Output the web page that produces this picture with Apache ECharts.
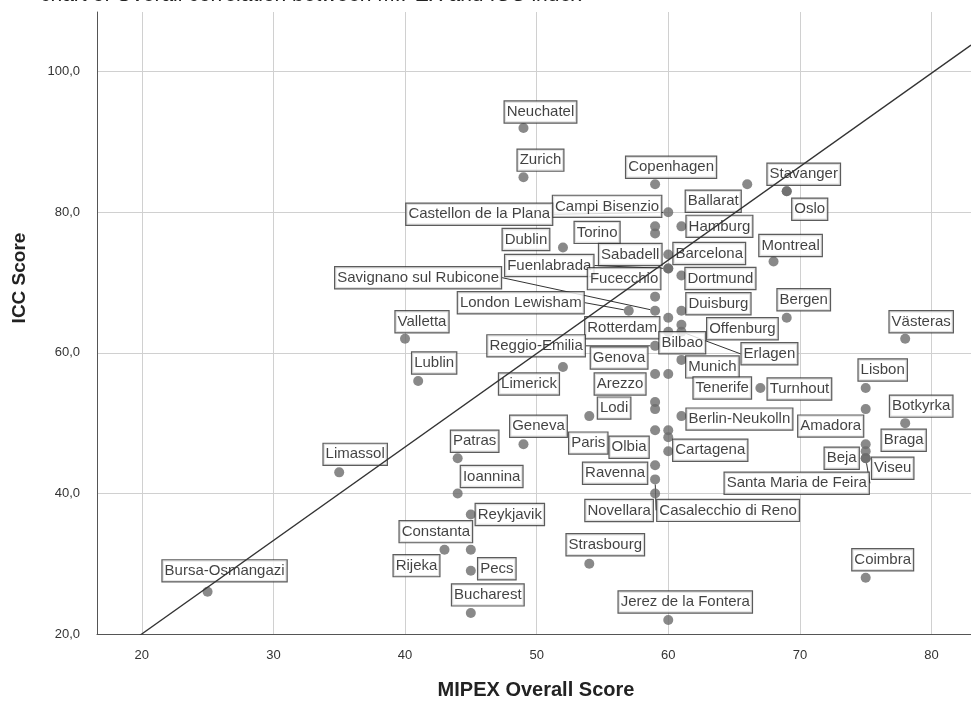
<!DOCTYPE html>
<html>
<head>
<meta charset="utf-8">
<script src="https://cdn.jsdelivr.net/npm/echarts@6/dist/echarts.min.js"></script>
<style>
  html, body { margin: 0; padding: 0; background: #fff; }
  #chart { width: 971px; height: 701px; }
</style>
</head>
<body>
<div id="chart"></div>
<script>
// City names with their MIPEX overall score and ICC index score
const cities = [
  'Neuchatel', 'Zurich', 'Copenhagen', 'Stavanger', 'Oslo', 'Ballarat', 'Hamburg',
  'Campi Bisenzio', 'Castellon de la Plana', 'Torino', 'Dublin', 'Sabadell', 'Barcelona',
  'Fuenlabrada', 'Fucecchio', 'Dortmund', 'Savignano sul Rubicone', 'London Lewisham',
  'Duisburg', 'Bergen', 'Montreal', 'Valletta', 'Rotterdam', 'Offenburg', 'Västeras',
  'Bilbao', 'Erlagen', 'Reggio-Emilia', 'Genova', 'Lublin', 'Munich', 'Limerick', 'Lisbon',
  'Arezzo', 'Tenerife', 'Turnhout', 'Botkyrka', 'Lodi', 'Berlin-Neukolln', 'Amadora',
  'Geneva', 'Patras', 'Paris', 'Olbia', 'Cartagena', 'Braga', 'Limassol', 'Beja', 'Viseu',
  'Ioannina', 'Ravenna', 'Santa Maria de Feira', 'Novellara', 'Casalecchio di Reno',
  'Reykjavik', 'Constanta', 'Strasbourg', 'Coimbra', 'Bursa-Osmangazi', 'Rijeka', 'Pecs',
  'Bucharest', 'Jerez de la Fontera', '', ''
];
const mipexScore = [
  49, 49, 59, 69, 69, 66, 61,
  59, 60, 59, 52, 60, 60,
  60, 59, 61, 59, 57,
  61, 69, 68, 40, 60, 61, 78,
  60, 61, 59, 59, 41, 61, 52, 75,
  59, 60, 67, 78, 59, 61, 75,
  49, 44, 54, 59, 60, 75, 35, 75, 75,
  44, 59, 75, 59, 59,
  45, 45, 54, 75, 25, 43, 45,
  45, 60, 60, 60
];
const iccScore = [
  92, 85, 84, 83, 83, 84, 78,
  78, 80, 77, 75, 74, 72,
  72, 68, 71, 66, 66,
  66, 65, 73, 62, 65, 64, 62,
  63, 63, 61, 57, 56, 59, 58, 55,
  53, 57, 55, 50, 52, 51, 52,
  47, 45, 51, 49, 46, 47, 43, 46, 45,
  40, 44, 45, 40, 42,
  37, 32, 30, 28, 26, 32, 29,
  23, 22, 49, 48
];
// Axis tick values
const xTicks = [20, 30, 40, 50, 60, 70, 80];
const yTicks = [20, 40, 60, 80, 100];
// Linear fit line: ICC = intercept + slope * MIPEX
const fitIntercept = -6.6;
const fitSlope = 1.33;

// Label placement (centre offset from the point, in px)
const labelOffsets = {
  'Neuchatel': [17, -16], 'Zurich': [17, -17], 'Copenhagen': [16, -17], 'Stavanger': [17, -17],
  'Oslo': [23, 18], 'Ballarat': [-34, 17], 'Hamburg': [38, 0], 'Campi Bisenzio': [-48, -20],
  'Castellon de la Plana': [-189, 2], 'Torino': [-58, -1], 'Dublin': [-37, -8], 'Sabadell': [-38, 0],
  'Barcelona': [41, -15], 'Fuenlabrada': [-119, -3], 'Fucecchio': [-31, -18], 'Dortmund': [39, 3],
  'Savignano sul Rubicone': [-237, -33], 'London Lewisham': [-108, -8], 'Duisburg': [37, -7],
  'Bergen': [17, -18], 'Montreal': [17, -16], 'Valletta': [17, -17], 'Rotterdam': [-46, 10],
  'Offenburg': [61, 4], 'Västeras': [16, -17], 'Bilbao': [14, 11], 'Erlagen': [88, 22],
  'Reggio-Emilia': [-119, 0], 'Genova': [-36, -16], 'Lublin': [16, -18], 'Munich': [31, 7],
  'Limerick': [-34, 17], 'Lisbon': [17, -18], 'Arezzo': [-35, -18], 'Tenerife': [54, 14],
  'Turnhout': [39, 1], 'Botkyrka': [16, -17], 'Lodi': [-41, -1], 'Berlin-Neukolln': [58, 3],
  'Amadora': [-35, 17], 'Geneva': [15, -18], 'Patras': [17, -17], 'Paris': [-1, 27],
  'Olbia': [-26, 17], 'Cartagena': [42, -1], 'Braga': [38, -4], 'Limassol': [16, -18],
  'Beja': [-24, 7], 'Viseu': [27, 10], 'Ioannina': [34, -17], 'Ravenna': [-40, 8],
  'Santa Maria de Feira': [-69, 25], 'Novellara': [-36, 17], 'Casalecchio di Reno': [73, 31],
  'Reykjavik': [39, 0], 'Constanta': [-35, -18], 'Strasbourg': [16, -19], 'Coimbra': [17, -18],
  'Bursa-Osmangazi': [17, -21], 'Rijeka': [-28, 16], 'Pecs': [26, -2], 'Bucharest': [17, -18],
  'Jerez de la Fontera': [17, -18]
};
// Labels that are connected to their point with a guide line
const guidedLabels = [
  'Castellon de la Plana', 'Fuenlabrada', 'Savignano sul Rubicone', 'London Lewisham',
  'Erlagen', 'Reggio-Emilia', 'Santa Maria de Feira', 'Casalecchio di Reno'
];

const X_MIN = 16.6, X_MAX = 83;
const Y_MIN = 20, Y_MAX = 108.5;
const FONT = '"Liberation Sans", Arial, sans-serif';

const points = cities.map(function (name, i) {
  const item = { name: name, value: [mipexScore[i], iccScore[i]] };
  if (guidedLabels.indexOf(name) >= 0) {
    item.labelLine = { show: true, lineStyle: { color: '#333', width: 1 } };
  }
  if (!name) item.label = { show: false };
  return item;
});

const fitData = [X_MIN, X_MAX].map(function (x) { return [x, fitIntercept + fitSlope * x]; });

const chart = echarts.init(document.getElementById('chart'), null, { renderer: 'canvas' });

function tickFormatter(ticks, fmt) {
  return function (v) {
    for (let i = 0; i < ticks.length; i++) {
      if (Math.abs(ticks[i] - v) < 1e-6) return fmt(ticks[i]);
    }
    return '';
  };
}

chart.setOption({
  animation: false,
  backgroundColor: '#ffffff',
  grid: { left: 97, right: 0, top: 12, bottom: 67, containLabel: false },
  xAxis: {
    type: 'value', min: X_MIN, max: X_MAX, minInterval: 10, maxInterval: 10,
    axisLine: { show: true, lineStyle: { color: '#555', width: 1 } },
    axisTick: { show: false },
    axisLabel: {
      margin: 15, color: '#333', fontSize: 13, fontFamily: FONT,
      showMinLabel: false, showMaxLabel: false,
      formatter: tickFormatter(xTicks, function (t) { return String(t); })
    },
    splitLine: { show: true, showMinLine: false, showMaxLine: false, lineStyle: { color: '#d0d0d0', width: 1 } }
  },
  yAxis: {
    type: 'value', min: Y_MIN, max: Y_MAX, minInterval: 20, maxInterval: 20,
    axisLine: { show: true, lineStyle: { color: '#555', width: 1 } },
    axisTick: { show: false },
    axisLabel: {
      margin: 17, color: '#333', fontSize: 13, fontFamily: FONT,
      showMaxLabel: false,
      formatter: tickFormatter(yTicks, function (t) { return t.toFixed(1).replace('.', ','); })
    },
    splitLine: { show: true, showMinLine: false, showMaxLine: false, lineStyle: { color: '#d0d0d0', width: 1 } }
  },
  graphic: [
    {
      type: 'text', left: 40, top: -15, silent: true,
      style: { text: 'chart of Overall correlation between MIPEX and ICC index', font: '21px ' + FONT, fill: '#222' }
    },
    {
      type: 'text', x: 536, y: 690, silent: true,
      style: { text: 'MIPEX Overall Score', font: 'bold 20px ' + FONT, fill: '#222', align: 'center', verticalAlign: 'middle' }
    },
    {
      type: 'text', x: 20, y: 278, rotation: Math.PI / 2, silent: true,
      style: { text: 'ICC Score', font: 'bold 19px ' + FONT, fill: '#222', align: 'center', verticalAlign: 'middle' }
    }
  ],
  series: [
    {
      name: 'Cities',
      type: 'scatter',
      z: 2,
      symbol: 'circle',
      symbolSize: 10,
      itemStyle: { color: '#6b6b6b' },
      data: points,
      label: {
        show: true, position: 'inside', formatter: '{b}',
        fontFamily: FONT, fontSize: 15, lineHeight: 17, color: '#111',
        backgroundColor: '#ffffff', borderColor: '#333', borderWidth: 1.2,
        padding: [2, 2, 2, 2], align: 'center', verticalAlign: 'middle'
      },
      labelLine: { show: false, lineStyle: { color: '#333', width: 1 } },
      labelLayout: function (params) {
        const off = labelOffsets[cities[params.dataIndex]] || [17, -17];
        return { dx: off[0], dy: off[1], hideOverlap: false };
      },
      emphasis: { disabled: true }
    },
    {
      name: 'Fit',
      type: 'line',
      z: 5,
      data: fitData,
      showSymbol: false,
      symbol: 'none',
      clip: true,
      lineStyle: { color: '#333', width: 1.3 },
      emphasis: { disabled: true },
      silent: true
    }
  ]
});
</script>
</body>
</html>
